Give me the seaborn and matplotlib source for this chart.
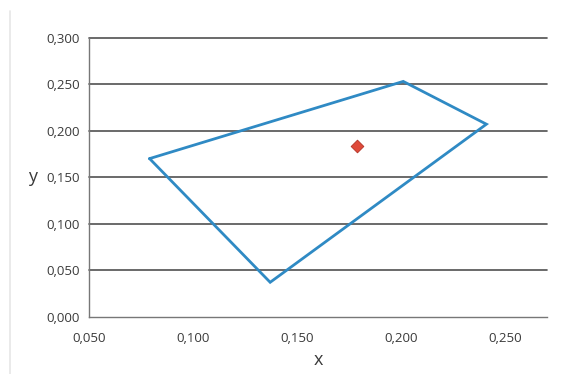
import matplotlib
matplotlib.use("Agg")
import matplotlib.pyplot as plt
from matplotlib.ticker import FuncFormatter
import seaborn as sns
import pandas as pd

# Data
poly_x = [0.079, 0.201, 0.241, 0.137, 0.079]
poly_y = [0.170, 0.253, 0.207, 0.037, 0.170]
point_x = [0.179]
point_y = [0.184]
x_ticks = [0.050, 0.100, 0.150, 0.200, 0.250]
y_ticks = [0.000, 0.050, 0.100, 0.150, 0.200, 0.250, 0.300]

sns.set_theme(style="white")
plt.rcParams['font.family'] = ['Open Sans', 'DejaVu Sans']

fig = plt.figure(figsize=(5.73, 3.74), dpi=100)
ax = fig.add_axes([0.1558, 0.1532, 0.9541 - 0.1558, 0.8992 - 0.1532])

# faint scan border
fig.add_artist(plt.Line2D([0.018, 0.018], [0.0, 0.97], color="#e6e6e6", lw=1.2, transform=fig.transFigure))

df_poly = pd.DataFrame({"x": poly_x, "y": poly_y, "grp": [0] * len(poly_x)})
df_pt = pd.DataFrame({"x": point_x, "y": point_y})

for yv in y_ticks[1:]:
    ax.axhline(yv, color="#505050", lw=1.2, zorder=1, clip_on=False)

sns.lineplot(data=df_poly, x="x", y="y", sort=False, estimator=None, units="grp",
             ax=ax, color="#2f8ac4", lw=2.0, zorder=3)
for ln in ax.get_lines():
    ln.set_solid_joinstyle("miter")
sns.scatterplot(data=df_pt, x="x", y="y", ax=ax, marker="D", s=42, color="#df4a3a",
                edgecolor="#b33226", linewidth=0.6, zorder=4)

ax.set_xlim(0.05, 0.27)
ax.set_ylim(0.0, 0.3)
ax.set_xticks(x_ticks)
ax.set_yticks(y_ticks)
fmt = FuncFormatter(lambda v, p: f"{v:.3f}".replace(".", ","))
ax.xaxis.set_major_formatter(fmt)
ax.yaxis.set_major_formatter(fmt)

for s in ["top", "right"]:
    ax.spines[s].set_visible(False)
for s in ["left", "bottom"]:
    ax.spines[s].set_color("#777777")
    ax.spines[s].set_linewidth(1.0)

ax.tick_params(axis="both", which="major", direction="out", length=4, width=1.0,
               color="#777777", labelsize=9.5, labelcolor="#3a3a3a")
ax.tick_params(axis="x", pad=7)
ax.tick_params(axis="y", pad=3)

ax.set_xlabel("x", fontsize=13, color="#3a3a3a", labelpad=4)
ax.set_ylabel("y", fontsize=13, color="#3a3a3a", rotation=0, labelpad=10)
ax.yaxis.set_label_coords(-0.125, 0.47)

fig.savefig("out.png", dpi=100)
